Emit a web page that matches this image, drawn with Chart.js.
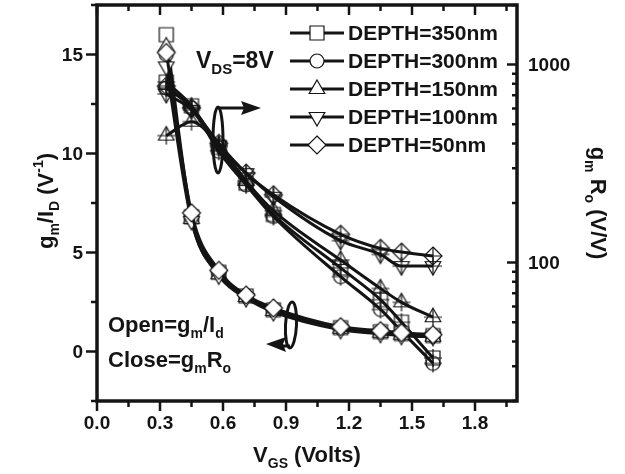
<!DOCTYPE html>
<html>
<head>
<meta charset="utf-8">
<script src="https://cdn.jsdelivr.net/npm/chart.js@4.4.1/dist/chart.umd.min.js"></script>
<style>
  html, body { margin: 0; padding: 0; background: #fff; }
</style>
</head>
<body>
<canvas id="grafico" width="625" height="474"></canvas>
<script>
// Datos
const vgs = [0.33, 0.45, 0.58, 0.71, 0.84, 1.16, 1.35, 1.45, 1.6];
const profundidades = ['DEPTH=350nm', 'DEPTH=300nm', 'DEPTH=150nm', 'DEPTH=100nm', 'DEPTH=50nm'];

// gm/Id (eje izquierdo, V^-1) - marcas abiertas
const gmId350 = [16.0, 6.8, 4.0, 2.8, 2.1, 1.2, 1.0, 0.9, 0.8];
const gmId300 = [15.0, 6.8, 4.0, 2.8, 2.1, 1.2, 1.0, 0.9, 0.8];
const gmId150 = [15.4, 6.7, 3.9, 2.75, 2.05, 1.15, 0.95, 0.85, 0.75];
const gmId100 = [14.4, 6.6, 3.85, 2.7, 2.0, 1.1, 0.9, 0.8, 0.75];
const gmId50 = [15.1, 7.0, 4.1, 2.85, 2.2, 1.25, 1.05, 0.95, 0.85];

// gm*Ro (eje derecho, V/V) - marcas cerradas
const gmRo350 = [816, 619, 382, 252, 175, 94, 65, 50, 33];
const gmRo300 = [762, 605, 365, 247, 171, 85, 58, 45, 31];
const gmRo150 = [438, 515, 390, 258, 183, 103, 74, 63, 53];
const gmRo100 = [711, 591, 390, 283, 215, 129, 110, 96, 96];
const gmRo50 = [779, 605, 400, 283, 220, 139, 118, 113, 108];

// marcas de los ejes
const ticksX = [0, 0.3, 0.6, 0.9, 1.2, 1.5, 1.8];
const ticksIzq = [0, 5, 10, 15];
const ticksDer = [100, 1000];

const FUENTE = '"Liberation Sans", Arial, sans-serif';
const NEGRO = '#141414';
const formas = ['cuadrado', 'circulo', 'triangulo', 'invertido', 'rombo'];

function trazarMarca(ctx, forma, x, y, relleno) {
  ctx.beginPath();
  if (forma === 'cuadrado') ctx.rect(x - 7, y - 7, 14, 14);
  else if (forma === 'circulo') ctx.arc(x, y, 7, 0, Math.PI * 2);
  else if (forma === 'triangulo') { ctx.moveTo(x, y - 9); ctx.lineTo(x + 7.8, y + 4.5); ctx.lineTo(x - 7.8, y + 4.5); ctx.closePath(); }
  else if (forma === 'invertido') { ctx.moveTo(x, y + 9); ctx.lineTo(x + 7.8, y - 4.5); ctx.lineTo(x - 7.8, y - 4.5); ctx.closePath(); }
  else { ctx.moveTo(x, y - 9); ctx.lineTo(x + 9, y); ctx.lineTo(x, y + 9); ctx.lineTo(x - 9, y); ctx.closePath(); }
  if (relleno) ctx.fill();
  ctx.stroke();
}

function crearMarca(forma, conCruz) {
  const c = document.createElement('canvas');
  c.width = 22; c.height = 22;
  const ctx = c.getContext('2d');
  ctx.lineWidth = 1.2;
  ctx.strokeStyle = NEGRO;
  ctx.fillStyle = '#fff';
  trazarMarca(ctx, forma, 11, 11, !conCruz);
  if (conCruz) {
    ctx.beginPath();
    ctx.moveTo(2, 11); ctx.lineTo(20, 11);
    ctx.moveTo(11, 2); ctx.lineTo(11, 20);
    ctx.stroke();
  }
  return c;
}

// texto con subíndices / superíndices
function textoMixto(ctx, partes, x, y, alin, tam) {
  const tamSub = Math.round(tam * 0.64);
  let ancho = 0;
  partes.forEach(p => {
    ctx.font = 'bold ' + (p[1] ? tamSub : tam) + 'px ' + FUENTE;
    ancho += ctx.measureText(p[0]).width;
  });
  let cx = alin === 'center' ? x - ancho / 2 : x;
  ctx.textAlign = 'left';
  ctx.textBaseline = 'alphabetic';
  partes.forEach(p => {
    ctx.font = 'bold ' + (p[1] ? tamSub : tam) + 'px ' + FUENTE;
    const dy = p[1] === 'sub' ? tam * 0.27 : (p[1] === 'sup' ? -tam * 0.45 : 0);
    ctx.fillText(p[0], cx, y + dy);
    cx += ctx.measureText(p[0]).width;
  });
}

const seriesGmId = [gmId350, gmId300, gmId150, gmId100, gmId50];
const seriesGmRo = [gmRo350, gmRo300, gmRo150, gmRo100, gmRo50];
const conjuntos = [];

seriesGmId.forEach((serie, i) => {
  conjuntos.push({
    label: profundidades[i] + ' gm/Id',
    data: vgs.map((v, k) => ({ x: v, y: serie[k] })),
    yAxisID: 'y',
    borderColor: NEGRO,
    borderWidth: 3,
    pointStyle: crearMarca(formas[i], false),
    pointRadius: 8,
    cubicInterpolationMode: 'monotone',
    order: 4 - i
  });
});
seriesGmRo.forEach((serie, i) => {
  conjuntos.push({
    label: profundidades[i] + ' gmRo',
    data: vgs.map((v, k) => ({ x: v, y: serie[k] })),
    yAxisID: 'y2',
    borderColor: NEGRO,
    borderWidth: 3,
    pointStyle: crearMarca(formas[i], true),
    pointRadius: 8,
    cubicInterpolationMode: 'monotone',
    order: 9 - i
  });
});

const decorado = {
  id: 'decorado',
  afterDraw(chart) {
    const ctx = chart.ctx;
    const { left, right, top, bottom } = chart.chartArea;
    const sx = chart.scales.x, sy = chart.scales.y, sr = chart.scales.y2;
    ctx.save();
    ctx.strokeStyle = NEGRO;
    ctx.fillStyle = NEGRO;
    ctx.lineCap = 'butt';

    // marcas de los ejes
    ctx.lineWidth = 2.5;
    ctx.beginPath();
    for (let k = 0; k <= 13; k++) {
      const px = sx.getPixelForValue(k * 0.15);
      const largo = k % 2 === 0 ? 10 : 6;
      ctx.moveTo(px, bottom); ctx.lineTo(px, bottom + largo);
      ctx.moveTo(px, top); ctx.lineTo(px, top + largo);
    }
    for (let k = -1; k <= 7; k++) {
      const py = sy.getPixelForValue(k * 2.5);
      const largo = k % 2 === 0 ? 11 : 6;
      ctx.moveTo(left, py); ctx.lineTo(left - largo, py);
    }
    [10, 100, 1000].forEach(dec => {
      for (let m = 1; m <= 9; m++) {
        const v = m * dec;
        if (v < 20 || v > 2000) continue;
        const py = sr.getPixelForValue(v);
        const largo = m === 1 ? 10 : 5;
        ctx.moveTo(right, py); ctx.lineTo(right - largo, py);
      }
    });
    ctx.stroke();

    // marco
    ctx.lineWidth = 3.5;
    ctx.strokeRect(left, top, right - left, bottom - top);

    // etiquetas de los ejes
    ctx.font = 'bold 19px ' + FUENTE;
    ctx.textBaseline = 'middle';
    ctx.textAlign = 'right';
    ticksIzq.forEach(v => ctx.fillText(String(v), left - 14, sy.getPixelForValue(v) + 1));
    ctx.textAlign = 'left';
    ticksDer.forEach(v => ctx.fillText(String(v), right + 11, sr.getPixelForValue(v) + 1));
    ctx.textAlign = 'center';
    ticksX.forEach(v => ctx.fillText(v.toFixed(1), sx.getPixelForValue(v), bottom + 23));

    // leyenda
    profundidades.forEach((txt, i) => {
      const y = 33 + i * 28;
      ctx.lineWidth = 3;
      ctx.beginPath(); ctx.moveTo(290, y); ctx.lineTo(344, y); ctx.stroke();
      ctx.lineWidth = 1.2;
      ctx.fillStyle = '#fff';
      trazarMarca(ctx, formas[i], 317, y, true);
      ctx.fillStyle = NEGRO;
      ctx.font = 'bold 21px ' + FUENTE;
      ctx.textAlign = 'left';
      ctx.textBaseline = 'middle';
      ctx.fillText(txt, 348, y + 1);
    });

    // anotaciones
    textoMixto(ctx, [['V'], ['DS', 'sub'], ['=8V']], 196, 68, 'left', 23);
    textoMixto(ctx, [['Open=g'], ['m', 'sub'], ['/I'], ['d', 'sub']], 108, 332, 'left', 22);
    textoMixto(ctx, [['Close=g'], ['m', 'sub'], ['R'], ['o', 'sub']], 108, 367, 'left', 22);

    // elipses y flechas
    ctx.lineWidth = 3;
    ctx.beginPath(); ctx.ellipse(218, 140, 5, 33, 0, 0, Math.PI * 2); ctx.stroke();
    ctx.beginPath(); ctx.moveTo(218, 108); ctx.lineTo(244, 108); ctx.stroke();
    ctx.beginPath(); ctx.moveTo(261, 108); ctx.lineTo(241, 101); ctx.lineTo(244, 108); ctx.lineTo(241, 115); ctx.closePath(); ctx.fill();

    ctx.beginPath(); ctx.ellipse(291, 325, 5.5, 23, 0.05, 0, Math.PI * 2); ctx.stroke();
    ctx.beginPath(); ctx.moveTo(290, 346); ctx.lineTo(280, 346); ctx.stroke();
    ctx.beginPath(); ctx.moveTo(266, 344); ctx.lineTo(286, 337); ctx.lineTo(283, 344); ctx.lineTo(286, 352); ctx.closePath(); ctx.fill();

    // títulos de los ejes
    textoMixto(ctx, [['V'], ['GS', 'sub'], [' (Volts)']], (left + right) / 2, 462, 'center', 22);

    ctx.save();
    ctx.translate(53, 201);
    ctx.rotate(-Math.PI / 2);
    textoMixto(ctx, [['g'], ['m', 'sub'], ['/I'], ['D', 'sub'], [' (V'], ['-1', 'sup'], [')']], 0, 0, 'center', 22);
    ctx.restore();

    ctx.save();
    ctx.translate(591, 203);
    ctx.rotate(Math.PI / 2);
    textoMixto(ctx, [['g'], ['m', 'sub'], [' R'], ['o', 'sub'], [' (V/V)']], 0, 0, 'center', 22);
    ctx.restore();

    ctx.restore();
  }
};

new Chart(document.getElementById('grafico'), {
  type: 'line',
  data: { datasets: conjuntos },
  options: {
    responsive: false,
    animation: false,
    devicePixelRatio: 1,
    layout: { autoPadding: false, padding: { top: 5, left: 0, right: 0, bottom: 0 } },
    plugins: { legend: { display: false }, tooltip: { enabled: false } },
    scales: {
      x: {
        type: 'linear', min: 0, max: 2.0,
        grid: { display: false }, border: { display: false },
        ticks: { display: false },
        afterFit: s => { s.height = 73; s.paddingLeft = 0; s.paddingRight = 0; }
      },
      y: {
        type: 'linear', position: 'left', min: -2.5, max: 17.5,
        grid: { display: false }, border: { display: false },
        ticks: { display: false },
        afterFit: s => { s.width = 97; }
      },
      y2: {
        type: 'logarithmic', position: 'right', min: 20, max: 2000,
        grid: { display: false }, border: { display: false },
        ticks: { display: false },
        afterFit: s => { s.width = 108; }
      }
    }
  },
  plugins: [decorado]
});
</script>
</body>
</html>
